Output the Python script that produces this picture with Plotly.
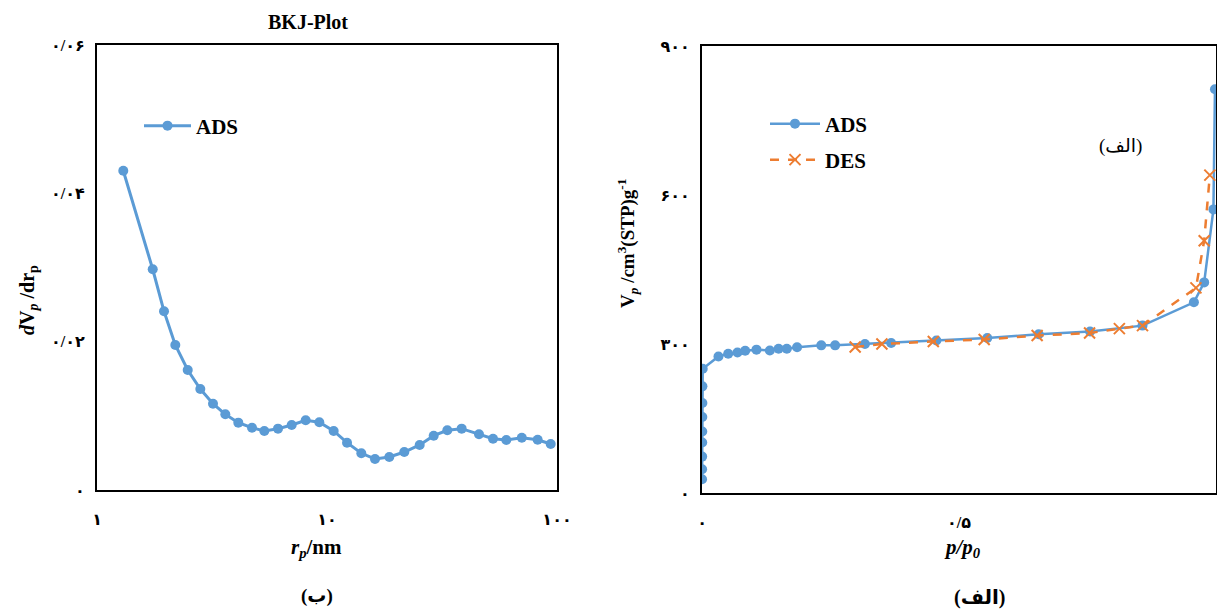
import plotly.graph_objects as go

# ---- Left panel (BKJ plot) ----
bkj_r = [1.301, 1.747, 1.956, 2.190, 2.480, 2.813, 3.194, 3.613, 4.115, 4.720,
         5.339, 6.123, 7.023, 8.08, 9.26, 10.69, 12.22, 14.10, 16.17, 18.66,
         21.68, 25.29, 29.1, 33.35, 38.5, 45.8, 52.7, 60.2, 70.3, 82.4, 93.9]
bkj_dv = [0.04305, 0.02976, 0.02409, 0.01955, 0.01618, 0.01362, 0.01164, 0.01021,
          0.00908, 0.00840, 0.00796, 0.00827, 0.00876, 0.00940, 0.00913, 0.00796,
          0.00638, 0.00495, 0.00418, 0.00445, 0.00512, 0.00607, 0.00732, 0.00805,
          0.00827, 0.00751, 0.00692, 0.00674, 0.00705, 0.00678, 0.00620]

# ---- Right panel (isotherm) ----
ads_p = [0.0001, 0.0002, 0.0003, 0.0004, 0.0005, 0.0006, 0.0007, 0.0008, 0.0014,
         0.032, 0.051, 0.069, 0.084, 0.106, 0.132, 0.149, 0.165, 0.185, 0.232,
         0.259, 0.317, 0.368, 0.456, 0.555, 0.655, 0.755, 0.857, 0.957, 0.977,
         0.995, 0.998]
ads_v = [27.6, 47.8, 73.3, 101.6, 123.8, 152.9, 181.1, 214.7, 250.2,
         275, 280.5, 283, 286.5, 288.6, 287, 290.6, 290.6, 293.3, 297.3,
         297.3, 300, 302, 307, 312, 319.5, 325, 337, 384, 424,
         571, 813]
des_p = [0.298, 0.350, 0.450, 0.549, 0.652, 0.754, 0.812, 0.857, 0.961, 0.977, 0.988]
des_v = [294, 300, 305, 309, 317, 322, 331, 337, 413, 508, 640]

left_xticks = [1, 10, 100]
left_xticktext = ["۱", "۱۰", "۱۰۰"]
left_yticks = [0, 0.02, 0.04, 0.06]
left_yticktext = ["۰", "۰/۰۲", "۰/۰۴", "۰/۰۶"]
right_xticks = [0, 0.5]
right_xticktext = ["۰", "۰/۵"]
right_yticks = [0, 300, 600, 900]
right_yticktext = ["۰", "۳۰۰", "۶۰۰", "۹۰۰"]

BLUE = "#5B9BD5"
ORANGE = "#ED7D31"
FONT = "Liberation Serif, Times New Roman, DejaVu Sans, serif"

def bold(lst):
    return ["<b>%s</b>" % t for t in lst]

fig = go.Figure()

fig.add_trace(go.Scatter(
    x=bkj_r, y=bkj_dv, mode="lines+markers", name="<b>ADS</b>",
    line=dict(color=BLUE, width=3), marker=dict(color=BLUE, size=10),
    xaxis="x", yaxis="y", legend="legend"))

fig.add_trace(go.Scatter(
    x=ads_p, y=ads_v, mode="lines+markers", name="<b>ADS</b>",
    line=dict(color=BLUE, width=2.5), marker=dict(color=BLUE, size=10),
    xaxis="x2", yaxis="y2", legend="legend2"))

fig.add_trace(go.Scatter(
    x=des_p, y=des_v, mode="lines+markers", name="<b>DES</b>",
    line=dict(color=ORANGE, width=2.5, dash="dash"),
    marker=dict(color=ORANGE, size=11, symbol="x-thin", line=dict(color=ORANGE, width=2)),
    xaxis="x2", yaxis="y2", legend="legend3"))

axis_common = dict(showgrid=False, zeroline=False, showline=True, mirror=True,
                   linecolor="black", linewidth=2, ticks="", automargin=False,
                   tickfont=dict(family=FONT, size=16, color="black"))

legend_common = dict(xanchor="left", yanchor="middle", bgcolor="rgba(0,0,0,0)",
                     borderwidth=0, font=dict(family=FONT, size=21, color="black"))

fig.update_layout(
    width=1217, height=614,
    margin=dict(l=0, r=0, t=0, b=0, autoexpand=False),
    paper_bgcolor="white", plot_bgcolor="white",
    font=dict(family=FONT, color="black"),
    xaxis=dict(domain=[97/1217, 557/1217], type="log", range=[0, 2],
               tickvals=left_xticks, ticktext=bold(left_xticktext),
               ticklabelstandoff=14, anchor="y", **axis_common),
    yaxis=dict(domain=[1-490/614, 1-45/614], range=[0, 0.06],
               tickvals=left_yticks, ticktext=bold(left_yticktext),
               ticklabelstandoff=7, anchor="x", **axis_common),
    xaxis2=dict(domain=[702/1217, 1216/1217], range=[0, 1],
                tickvals=right_xticks, ticktext=bold(right_xticktext),
                ticklabelstandoff=14, anchor="y2", **axis_common),
    yaxis2=dict(domain=[1-493/614, 1-46/614], range=[0, 900],
                tickvals=right_yticks, ticktext=bold(right_yticktext),
                ticklabelstandoff=7, anchor="x2", **axis_common),
    legend=dict(x=139/1217, y=1-126/614, itemwidth=47, **legend_common),
    legend2=dict(x=765/1217, y=1-124/614, itemwidth=50, **legend_common),
    legend3=dict(x=765/1217, y=1-160/614, itemwidth=50, **legend_common),
    showlegend=True,
)

ann = [
    dict(text="<b>BKJ-Plot</b>", x=308, y=22, size=20),
    dict(text="<b><i>d</i>V<sub><i>p</i></sub> /dr<sub>p</sub></b>", x=28, y=300, size=20, angle=-90),
    dict(text="<b><i>r<sub>p</sub></i>/nm</b>", x=316, y=548, size=21),
    dict(text="<b>(ب)</b>", x=317, y=596, size=19),
    dict(text="<b>V<sub><i>p</i></sub> /cm<sup>3</sup>(STP)g<sup>-1</sup></b>", x=628, y=244, size=19, angle=-90),
    dict(text="<b><i>p/p<sub>0</sub></i></b>", x=962, y=548, size=21),
    dict(text="<b>(الف)</b>", x=980, y=597, size=20),
    dict(text="(الف)", x=1120, y=146, size=19),
]
for a in ann:
    fig.add_annotation(text=a["text"], x=a["x"]/1217, y=1-a["y"]/614,
                       xref="paper", yref="paper", showarrow=False,
                       xanchor="center", yanchor="middle",
                       textangle=a.get("angle", 0),
                       font=dict(family=FONT, size=a["size"], color="black"))

fig.write_html("out.html", config={"displayModeBar": False},
               post_script="document.body.style.margin='0';document.body.style.overflow='hidden';")
